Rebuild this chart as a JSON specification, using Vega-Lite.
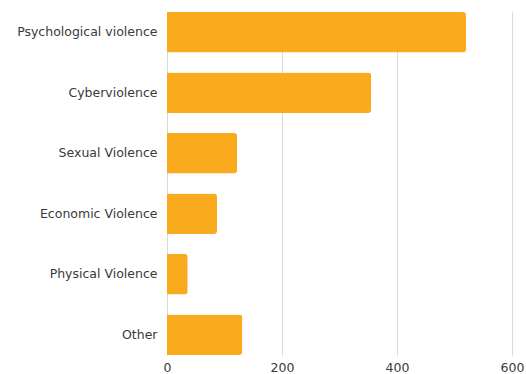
{
  "$schema": "https://vega.github.io/schema/vega-lite/v6.json",
  "width": 345,
  "height": 343,
  "autosize": "none",
  "padding": {"left": 167, "top": 12, "right": 14, "bottom": 19},
  "background": "white",
  "data": {
    "values": [
      {"category": "Psychological violence", "count": 520},
      {"category": "Cyberviolence", "count": 355},
      {"category": "Sexual Violence", "count": 122},
      {"category": "Economic Violence", "count": 87},
      {"category": "Physical Violence", "count": 36},
      {"category": "Other", "count": 131}
    ]
  },
  "mark": {"type": "bar", "color": "#F9AA1D", "cornerRadiusEnd": 3},
  "encoding": {
    "y": {
      "field": "category",
      "type": "nominal",
      "sort": null,
      "title": null,
      "scale": {"paddingInner": 0.33, "paddingOuter": 0},
      "axis": {"ticks": false, "domain": false, "labelPadding": 10, "labelFontSize": 12.5, "labelFont": "DejaVu Sans", "labelColor": "#3a3a3a"}
    },
    "x": {
      "field": "count",
      "type": "quantitative",
      "title": null,
      "scale": {"domain": [0, 600], "nice": false},
      "axis": {"values": [0, 200, 400, 600], "ticks": false, "domain": false, "labelPadding": 6, "labelFontSize": 12.5, "labelFont": "DejaVu Sans", "labelColor": "#3a3a3a", "grid": true, "gridColor": "#d9d9d9", "labelFlush": false}
    }
  },
  "config": {"view": {"stroke": null}}
}
